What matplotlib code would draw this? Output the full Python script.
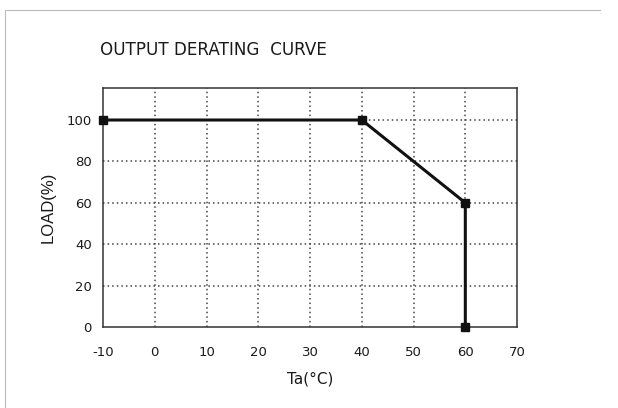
import matplotlib.pyplot as plt
from matplotlib.lines import Line2D

# donnees de la courbe de declassement
temp = [-10, 40, 60, 60]
load = [100, 100, 60, 0]
xticks = [-10, 0, 10, 20, 30, 40, 50, 60, 70]
yticks = [0, 20, 40, 60, 80, 100]

plt.rcParams['font.family'] = ['DejaVu Sans']
plt.rcParams['axes.unicode_minus'] = False

fig = plt.figure(figsize=(6.18, 4.08), dpi=100)
ax = fig.add_axes([0.1667, 0.1985, 0.67, 0.586])

# grille pointillee
for x in xticks[1:-1]:
    ax.axvline(x, color='#444444', linestyle=(0, (1, 2)), linewidth=1.1, zorder=1)
for y in yticks[1:]:
    ax.axhline(y, color='#444444', linestyle=(0, (1, 2)), linewidth=1.1, zorder=1)

ax.plot(temp, load, color='#111111', linewidth=2.2, marker='s', markersize=6,
        clip_on=False, zorder=3)

ax.set_xlim(-10, 70)
ax.set_ylim(0, 115.5)
ax.set_xticks(xticks)
ax.set_yticks(yticks)
ax.tick_params(axis='x', length=0, pad=14, labelsize=9.5, colors='#1a1a1a')
ax.tick_params(axis='y', length=0, pad=8, labelsize=9.5, colors='#1a1a1a')
for s in ax.spines.values():
    s.set_color('#333333')
    s.set_linewidth(1.1)

ax.set_xlabel('Ta(°C)', fontsize=11, color='#1a1a1a', labelpad=9)
ax.set_ylabel('LOAD(%)', fontsize=12, color='#1a1a1a', labelpad=8,
              family='Liberation Sans')

fig.text(100 / 618, 1 - 50 / 408, 'OUTPUT DERATING  CURVE', fontsize=12.1,
         color='#1a1a1a', va='center', ha='left')

# bordure du scan
fig.add_artist(Line2D([5 / 618, 600 / 618], [1 - 10 / 408, 1 - 10 / 408],
                      color='#bbbbbb', linewidth=0.8))
fig.add_artist(Line2D([5 / 618, 5 / 618], [1 - 10 / 408, 0],
                      color='#bbbbbb', linewidth=0.8))

plt.savefig('out.png', dpi=100)
